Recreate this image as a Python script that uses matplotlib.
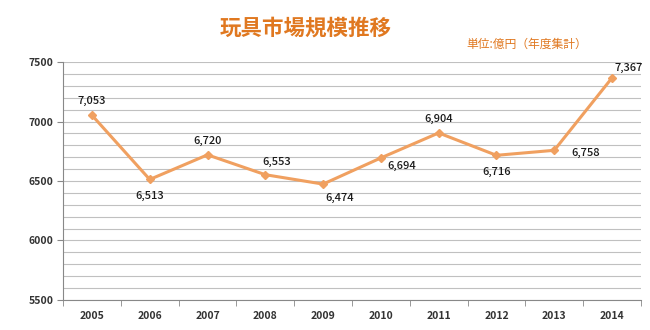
import matplotlib
matplotlib.use('Agg')
import matplotlib.pyplot as plt
from matplotlib.ticker import MultipleLocator

plt.rcParams['font.family'] = ['Noto Sans CJK JP', 'DejaVu Sans']

years = ['2005', '2006', '2007', '2008', '2009', '2010', '2011', '2012', '2013', '2014']
sales = [7053, 6513, 6720, 6553, 6474, 6694, 6904, 6716, 6758, 7367]
# label offsets in points (dx, dy) for each value
offsets = [(0, 10), (0, -12), (0, 10), (8, 9), (12, -10), (15, -6), (0, 10), (0, -12), (23, -2), (12, 7)]

line_color = '#F0A060'
fig = plt.figure(figsize=(6.5, 3.3), dpi=100)
ax = fig.add_axes([0.097, 0.091, 0.889, 0.721])

x = list(range(len(years)))
ax.plot(x, sales, color=line_color, linewidth=2.2, marker='D', markersize=4.5,
        markerfacecolor=line_color, markeredgecolor=line_color)
for xi, v, (dx, dy) in zip(x, sales, offsets):
    ax.annotate(f'{v:,}', (xi, v), xytext=(dx, dy), textcoords='offset points',
                ha='center', va='center', fontsize=8, color='#1A1A1A', fontweight='medium')

ax.set_xlim(-0.5, len(years) - 0.5)
ax.set_ylim(5500, 7500)
ax.yaxis.set_major_locator(MultipleLocator(500))
ax.yaxis.set_minor_locator(MultipleLocator(100))
ax.grid(True, which='both', axis='y', color='#C0C0C0', linewidth=0.8)
ax.set_axisbelow(True)

ax.set_xticks(x)
ax.set_xticklabels(years)
ax.set_xticks([i - 0.5 for i in range(len(years) + 1)], minor=True)
ax.tick_params(axis='x', which='major', length=0, pad=8, labelsize=7.5)
ax.tick_params(axis='x', which='minor', length=4, color='#888888', direction='out')
ax.tick_params(axis='y', which='major', length=4, color='#888888', labelsize=7.5, pad=3)
ax.tick_params(axis='y', which='minor', length=0)
for lbl in ax.get_xticklabels() + ax.get_yticklabels():
    lbl.set_fontweight('bold')
    lbl.set_color('#333333')

for side in ['top', 'right']:
    ax.spines[side].set_visible(False)
for side in ['left', 'bottom']:
    ax.spines[side].set_color('#888888')

fig.text(0.47, 0.915, '玩具市場規模推移', ha='center', va='center',
         fontsize=15.5, fontweight='bold', color='#E07820')
fig.text(0.81, 0.865, '単位:億円（年度集計）', ha='center', va='center',
         fontsize=8.5, color='#E07820')

fig.savefig('out.png', dpi=100)
